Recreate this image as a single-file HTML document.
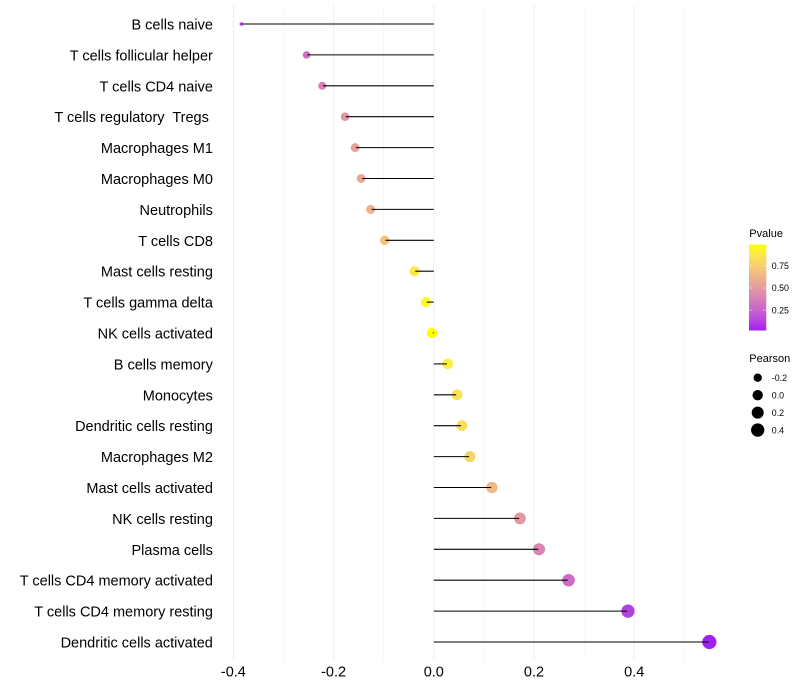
<!DOCTYPE html>
<html lang="en">
<head>
<meta charset="utf-8">
<title>Immune cell correlation lollipop chart</title>
<style>
html,body{margin:0;padding:0;background:#fff;width:800px;height:700px;overflow:hidden}
svg{display:block;font-family:"Liberation Sans",Arial,sans-serif}
text{white-space:pre}
</style>
</head>
<body>
<svg id="chart" width="800" height="700" viewBox="0 0 800 700">
  <rect width="800" height="700" fill="#fff"/>
  <g id="grid"></g>
  <g id="dots"></g>
  <g id="stems"></g>
  <g id="ylabels"></g>
  <g id="xlabels"></g>
  <g id="legend-p"></g>
  <g id="legend-s"></g>
</svg>
<script>
const categories = ["B cells naive","T cells follicular helper","T cells CD4 naive","T cells regulatory  Tregs ","Macrophages M1","Macrophages M0","Neutrophils","T cells CD8","Mast cells resting","T cells gamma delta","NK cells activated","B cells memory","Monocytes","Dendritic cells resting","Macrophages M2","Mast cells activated","NK cells resting","Plasma cells","T cells CD4 memory activated","T cells CD4 memory resting","Dendritic cells activated"];
const pearson = [-0.384,-0.254,-0.2226,-0.177,-0.157,-0.145,-0.126,-0.098,-0.0385,-0.0156,-0.0036,0.0277,0.0463,0.056,0.072,0.116,0.172,0.21,0.269,0.3876,0.55];
const pvalue = [0.116,0.31,0.37,0.48,0.53,0.57,0.62,0.70,0.88,0.95,0.99,0.91,0.86,0.83,0.78,0.645,0.49,0.40,0.28,0.11,0.02];
const xMajorTicks = [-0.4,-0.2,0,0.2,0.4];
const xMinorTicks = [-0.3,-0.1,0.1,0.3,0.5];
const xTickLabels = ["-0.4","-0.2","0.0","0.2","0.4"];
const pLegendTicks = [0.25,0.5,0.75];
const pLegendLabels = ["0.25","0.50","0.75"];
const sizeLegendValues = [-0.2,0,0.2,0.4];
const sizeLegendLabels = ["-0.2","0.0","0.2","0.4"];

const NS = "http://www.w3.org/2000/svg";
function make(parent, tag, attrs, txt){
  const el = document.createElementNS(NS, tag);
  for (const k in attrs) el.setAttribute(k, attrs[k]);
  if (txt !== undefined) el.textContent = txt;
  parent.appendChild(el);
  return el;
}
function xScale(v){ return 433.8 + v * 501; }
function yScale(i){ return 24 + i * 30.9; }
function rScale(v){
  const t = Math.max(0, (v - (-0.384)) / (0.55 - (-0.384)));
  return 1.8 + 5.3 * Math.sqrt(t);
}
function pY(p){ return 332.2 - p * 88.4; }

function toLab(rgb){
  const f = rgb.map(c=>{c/=255;return c>0.04045?Math.pow((c+0.055)/1.055,2.4):c/12.92;});
  const X=(0.4124*f[0]+0.3576*f[1]+0.1805*f[2])/0.95047;
  const Y=0.2126*f[0]+0.7152*f[1]+0.0722*f[2];
  const Z=(0.0193*f[0]+0.1192*f[1]+0.9505*f[2])/1.08883;
  const g=t=>t>0.008856?Math.cbrt(t):7.787*t+16/116;
  return [116*g(Y)-16,500*(g(X)-g(Y)),200*(g(Y)-g(Z))];
}
function fromLab(l){
  const fy=(l[0]+16)/116, fx=fy+l[1]/500, fz=fy-l[2]/200;
  const h=t=>t*t*t>0.008856?t*t*t:(t-16/116)/7.787;
  const X=h(fx)*0.95047,Y=h(fy),Z=h(fz)*1.08883;
  const r=[3.2406*X-1.5372*Y-0.4986*Z,-0.9689*X+1.8758*Y+0.0415*Z,0.0557*X-0.2040*Y+1.0570*Z];
  return "rgb("+r.map(c=>{c=c>0.0031308?1.055*Math.pow(c,1/2.4)-0.055:12.92*c;return Math.round(Math.min(1,Math.max(0,c))*255);}).join(",")+")";
}
const labLow = toLab([160,32,240]);
const labHigh = toLab([255,255,0]);
function colorScale(p){
  const t = Math.max(0, Math.min(1, (p - 0.02) / 0.97));
  return fromLab(labLow.map((c,i)=>c+(labHigh[i]-c)*t));
}

const grid = document.getElementById("grid");
xMinorTicks.forEach(v=>{
  const el = make(grid,"line",{x1:xScale(v),x2:xScale(v),y1:5,y2:660,stroke:"#efefef","stroke-width":0.55});
  
  
});
xMajorTicks.forEach(v=>{
  const el = make(grid,"line",{x1:xScale(v),x2:xScale(v),y1:5,y2:660,stroke:"#efefef","stroke-width":1.05});
  
  
});

const dots = document.getElementById("dots");
const stems = document.getElementById("stems");
const ylabels = document.getElementById("ylabels");
categories.forEach((name,i)=>{
  const v = pearson[i], y = yScale(i), x = xScale(v);
  const dot = make(dots,"circle",{cx:x,cy:y,r:rScale(v),fill:colorScale(pvalue[i])});
  
  
  const stem = make(stems,"line",{x1:xScale(0),x2:x-Math.sign(v)*0.8,y1:y,y2:y,stroke:"#000","stroke-width":1.05});
  
  
  const label = make(ylabels,"text",{x:212.9,y:y+5.45,"text-anchor":"end","font-size":14.5,fill:"#000"},name);
  
  
});

const xlabels = document.getElementById("xlabels");
xMajorTicks.forEach((v,i)=>{
  const label = make(xlabels,"text",{x:xScale(v),y:676.3,"text-anchor":"middle","font-size":14.5,fill:"#000"},xTickLabels[i]);
  
  
});

const lp = document.getElementById("legend-p");
const pTitle = make(lp,"text",{x:749.3,y:237,"font-size":11,fill:"#000"},"Pvalue");


const defs = make(lp,"defs",{});
const gradient = make(defs,"linearGradient",{id:"pgrad",x1:0,y1:1,x2:0,y2:0});
for (let s = 0; s <= 10; s++) {
  make(gradient,"stop",{offset:s/10,"stop-color":colorScale(0.02+0.97*s/10)});
}
const bar = make(lp,"rect",{x:749,y:244.5,width:17.3,height:86,fill:"url(#pgrad)"});


pLegendTicks.forEach((p,i)=>{
  const y = pY(p);
  const t1 = make(lp,"line",{x1:749,x2:752.5,y1:y,y2:y,stroke:"#fff","stroke-opacity":0.75,"stroke-width":0.6});
  
  
  const t2 = make(lp,"line",{x1:762.8,x2:766.3,y1:y,y2:y,stroke:"#fff","stroke-opacity":0.75,"stroke-width":0.6});
  
  
  const label = make(lp,"text",{x:771.8,y:y+3.2,"font-size":8.8,fill:"#000"},pLegendLabels[i]);
  
  
});

const ls = document.getElementById("legend-s");
const sTitle = make(ls,"text",{x:749.3,y:362,"font-size":11,fill:"#000"},"Pearson");


sizeLegendValues.forEach((v,i)=>{
  const y = 377.7 + i * 17.45;
  const key = make(ls,"circle",{cx:757.7,cy:y,r:rScale(v),fill:"#000"});
  
  
  const label = make(ls,"text",{x:771.8,y:y+3.2,"font-size":8.8,fill:"#000"},sizeLegendLabels[i]);
  
  
});
</script>
</body>
</html>
